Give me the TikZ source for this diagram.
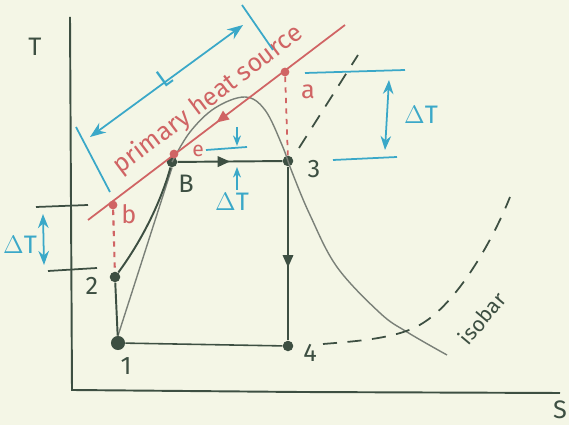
\documentclass[tikz,border=0pt]{standalone}
\usepackage{fontspec}
\setsansfont{Fira Sans}
\usetikzlibrary{arrows.meta,decorations.markings}
\definecolor{paper}{HTML}{F4F6E6}
\definecolor{ink}{HTML}{3D4F42}
\definecolor{domegray}{HTML}{7A8078}
\definecolor{heatred}{HTML}{D06464}
\definecolor{dimcyan}{HTML}{3AA8C8}
\tikzset{
  dot/.style={circle, fill=ink, inner sep=0pt, minimum size=6pt},
  reddot/.style={circle, fill=heatred, inner sep=0pt, minimum size=5pt},
  lbl/.style={font=\sffamily\Large, text=ink},
  redlbl/.style={font=\sffamily\Large, text=heatred},
  cyanlbl/.style={font=\sffamily\Large, text=dimcyan},
  cycle line/.style={draw=ink, line width=1.1pt},
  dimline/.style={draw=dimcyan, line width=1pt},
  midarrow/.style={postaction={decorate}, decoration={markings,
    mark=at position #1 with {\arrow{Triangle[length=7pt,width=6pt]}}}}
}
\begin{document}
\begin{tikzpicture}[x=0.02cm, y=-0.02cm]
    \useasboundingbox (0,0) rectangle (569,425);
    \fill[paper] (0,0) rectangle (569,425);
    % axes
    \draw[ink, line width=1.1pt] (70,17) -- (72,390) -- (300,392) -- (560,393);
    \node[lbl] (Tlabel) at (35,47) {T};
    \node[lbl] (Slabel) at (560,410) {S};
    % state points
    \node[dot, minimum size=8pt] (p1) at (118,343) {};
    \node[dot] (p2) at (115,277) {};
    \node[dot] (pB) at (172,162) {};
    \node[dot] (p3) at (288,161) {};
    \node[dot] (p4) at (288,346) {};
    \node[lbl] at (126,366) {1};
    \node[lbl] at (92,286) {2};
    \node[lbl] at (186,184) {B};
    \node[lbl] at (314,169) {3};
    \node[lbl] at (310,353) {4};
    % saturation dome
    \draw[domegray, line width=0.8pt] (p1.north) -- (pB.south);
    \draw[domegray, line width=0.8pt] plot[smooth, tension=0.6] coordinates {
      (172,162) (190,132) (215,108) (245,97) (265,110) (282,145)
      (292,172) (310,215) (337,267) (380,313) (407,332) (447,355)};
    % cycle
    \draw[cycle line] (p1) -- (p2);
    \draw[cycle line] (p2) .. controls (140,243) and (160,205) .. (pB);
    \draw[cycle line, midarrow=0.5] (pB) -- (p3);
    \draw[ink, line width=0.9pt, midarrow=0.58] (p3) -- (p4);
    \draw[ink, line width=0.9pt] (p4) -- (p1);
    % isobars
    \coordinate (iso3) at (299,148);
    \coordinate (iso4) at (323,344);
    \draw[ink, line width=1pt, dash pattern=on 8pt off 6pt] (iso3) -- (358,55);
    \draw[ink, line width=1pt, dash pattern=on 8pt off 6pt]
      (iso4) .. controls (360,341) and (400,338) .. (423,323)
      .. controls (460,300) and (495,235) .. (510,197);
    \node[lbl, font=\sffamily\large, rotate=50] (isobar) at (482,318) {isobar};
    % primary heat source
    \coordinate (hs top) at (345,25);
    \coordinate (hs bot) at (88,220);
    \draw[heatred, line width=1pt, midarrow=0.5] (hs top) -- (hs bot);
    \node[redlbl, rotate=37] (hslabel) at (208,100) {primary heat source};
    \node[reddot] (pa) at (285,72) {};
    \node[reddot] (pb) at (113,205) {};
    \node[reddot] (pe) at (174,154) {};
    \draw[heatred, line width=1pt, dashed] (pa) -- (p3);
    \draw[heatred, line width=1.2pt, dashed] (pb) -- (p2);
    \node[redlbl] at (308,92) {a};
    \node[redlbl] at (129,214) {b};
    \node[font=\sffamily\large, text=heatred] at (198,151) {e};
    % length of the heat source
    \coordinate (Lstart) at (90,137);
    \coordinate (Lend) at (243,25);
    \draw[dimline, {Stealth[length=9pt]}-{Stealth[length=9pt]}] (Lstart) -- (Lend);
    \draw[dimline] (76,127) -- (110,192);
    \draw[dimline] (242,5) -- (273,50);
    \node[cyanlbl, rotate=36] (Llabel) at (164,78) {L};
    % temperature difference at a/3
    \coordinate (ta l) at (305,73);
    \coordinate (ta r) at (405,70);
    \coordinate (t3 l) at (333,160);
    \coordinate (t3 r) at (397,157);
    \draw[dimline] (ta l) -- (ta r);
    \draw[dimline] (t3 l) -- (t3 r);
    \draw[dimline, {Stealth[length=8pt]}-{Stealth[length=8pt]}] (389,80) -- (385,150);
    \node[cyanlbl] (dT right) at (421,115) {$\Delta$T};
    % temperature difference at b/2
    \draw[ink, line width=1pt] (36,207) -- (88,205);
    \draw[ink, line width=1pt] (48,271) -- (97,268);
    \draw[dimline, {Stealth[length=8pt]}-{Stealth[length=8pt]}] (43,214) -- (44,265);
    \node[cyanlbl] (dT left) at (20,245) {$\Delta$T};
    % temperature difference at e/B
    \coordinate (te l) at (206,150);
    \coordinate (te r) at (247,147);
    \draw[dimline] (te l) -- (te r);
    \draw[dimline, -{Stealth[length=6pt]}] (237,127) -- (237,146);
    \draw[dimline, -{Stealth[length=6pt]}] (237,190) -- (237,167);
    \node[cyanlbl] (dT mid) at (232,202) {$\Delta$T};
  \end{tikzpicture}
\end{document}
